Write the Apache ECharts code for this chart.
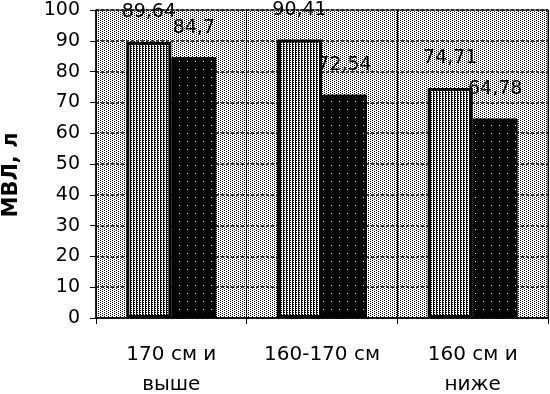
<!DOCTYPE html>
<html><head><meta charset="utf-8">
<script src="https://cdn.jsdelivr.net/npm/echarts@6/dist/echarts.min.js"></script>
<style>html,body{margin:0;padding:0;background:#fff}#c{width:550px;height:394px}</style>
</head><body><div id="c"></div>
<script>
var categories = ['170 см и\nвыше', '160-170 см', '160 см и\nниже'];
var series1 = [89.64, 90.41, 74.71];
var series2 = [84.7, 72.54, 64.78];
var yTicks = [0, 10, 20, 30, 40, 50, 60, 70, 80, 90, 100];
var yName = 'МВЛ, л';

function makePattern(w, h, bg, fg, fn) {
  var c = document.createElement('canvas');
  c.width = w; c.height = h;
  var ctx = c.getContext('2d');
  ctx.fillStyle = bg; ctx.fillRect(0, 0, w, h);
  ctx.fillStyle = fg;
  for (var y = 0; y < h; y++) for (var x = 0; x < w; x++) if (fn(x, y)) ctx.fillRect(x, y, 1, 1);
  return {image: c, repeat: 'repeat'};
}
var bgPat = makePattern(4, 4, '#ffffff', '#000000', function (x, y) { return (x + y * 2) % 4 === 0; });
var bar1Pat = makePattern(3, 4, '#ffffff', '#000000', function (x, y) { return x === 1 || (x === 2 && y % 2 === 0); });
var bar2Pat = makePattern(8, 8, '#000000', '#ffffff', function (x, y) { return x === 3 && y === 5; });

var FONT = 'DejaVu Sans';
var chart = echarts.init(document.getElementById('c'));
chart.setOption({
  animation: false,
  grid: {left: 96, right: 2, top: 10, bottom: 76, outerBoundsMode: 'none', containLabel: false,
    show: true, backgroundColor: bgPat, borderColor: '#000', borderWidth: 1},
  graphic: [{type: 'text', x: 12, y: 175, rotation: Math.PI / 2,
    style: {text: yName, fill: '#000', font: 'bold 21px "DejaVu Sans"', align: 'center', verticalAlign: 'middle'}}],
  xAxis: {
    type: 'category', data: categories,
    axisLine: {lineStyle: {color: '#000', width: 1.5}},
    axisTick: {show: true, length: 6, lineStyle: {color: '#000'}},
    splitLine: {show: true, lineStyle: {color: '#000', width: 1}},
    axisLabel: {interval: 0, hideOverlap: false, color: '#000', fontFamily: FONT, fontSize: 20, lineHeight: 30, margin: 22}
  },
  yAxis: {
    type: 'value', min: 0, max: 100, interval: 10,
    axisLine: {show: true, lineStyle: {color: '#000', width: 1.5}},
    axisTick: {show: true, length: 6, lineStyle: {color: '#000'}},
    splitLine: {show: true, lineStyle: {color: '#111', width: 1.5, type: [3, 2]}},
    axisLabel: {color: '#000', fontFamily: FONT, fontSize: 19, margin: 16,
      formatter: function (v) { return yTicks.indexOf(v) >= 0 ? String(v) : ''; }}
  },
  series: [
    {type: 'bar', data: series1, barWidth: 45, barGap: '0%',
      itemStyle: {color: bar1Pat, borderColor: '#000', borderWidth: 3},
      label: {show: true, position: 'top', distance: 20, color: '#000', fontFamily: FONT, fontSize: 19,
        formatter: function (p) { return String(p.value).replace('.', ','); }}},
    {type: 'bar', data: series2, barWidth: 45,
      itemStyle: {color: bar2Pat, borderColor: '#000', borderWidth: 1},
      label: {show: true, position: 'top', distance: 20, color: '#000', fontFamily: FONT, fontSize: 19,
        formatter: function (p) { return String(p.value).replace('.', ','); }}}
  ]
});
</script></body></html>
